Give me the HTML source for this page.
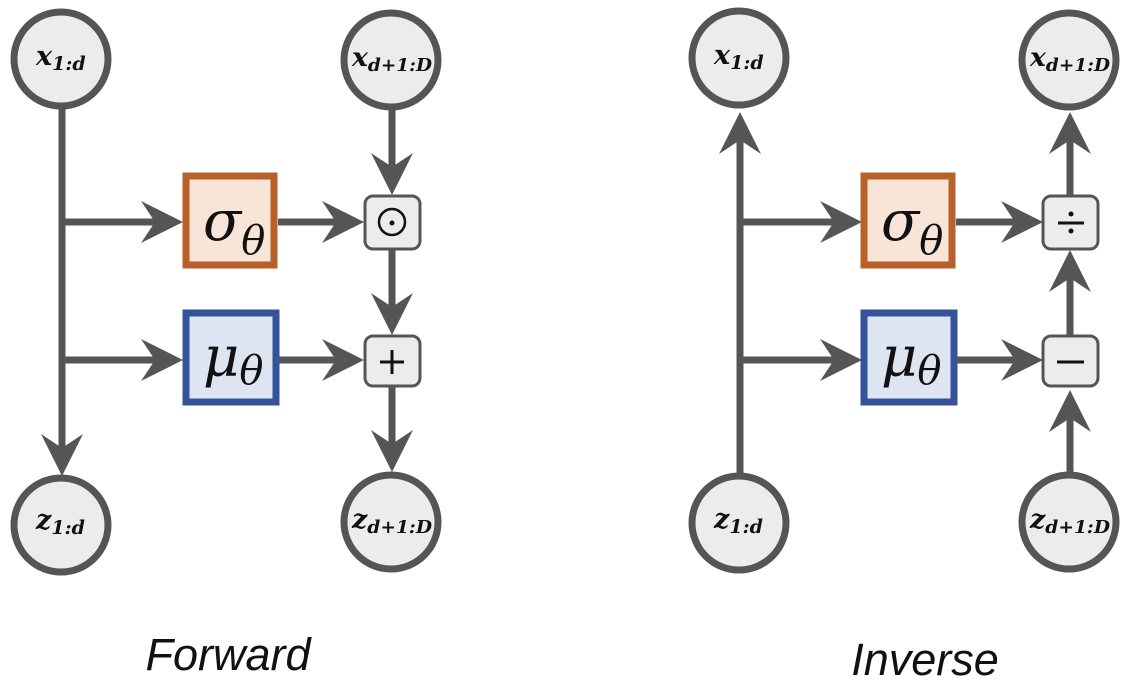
<!DOCTYPE html>
<html><head><meta charset="utf-8"><style>
html,body{margin:0;padding:0;background:#fff;}
svg{display:block;}
.t{font-family:"DejaVu Serif","Liberation Serif",serif;font-weight:bold;font-style:italic;}
.g{font-family:"DejaVu Serif","Liberation Serif",serif;font-style:italic;}
</style></head><body>
<svg width="1128" height="688" viewBox="0 0 1128 688" xmlns="http://www.w3.org/2000/svg">
<defs>
<path id="ah" d="M0,0 L-42,-21 L-28,0 L-42,21 Z" fill="#555"/>
</defs>
<g stroke="#555" stroke-width="7" fill="none">
<line x1="62" y1="108" x2="62" y2="460"/>
<line x1="62" y1="222" x2="160" y2="222"/>
<line x1="62" y1="360" x2="160" y2="360"/>
<line x1="278" y1="222" x2="345" y2="222"/>
<line x1="278" y1="360" x2="345" y2="360"/>
<line x1="392" y1="108" x2="392" y2="180"/>
<line x1="392" y1="250" x2="392" y2="318"/>
<line x1="392" y1="385" x2="392" y2="455"/>
<line x1="740" y1="135" x2="740" y2="476"/>
<line x1="740" y1="222" x2="838" y2="222"/>
<line x1="740" y1="360" x2="838" y2="360"/>
<line x1="956" y1="222" x2="1024" y2="222"/>
<line x1="956" y1="360" x2="1024" y2="360"/>
<line x1="1070" y1="135" x2="1070" y2="195"/>
<line x1="1070" y1="270" x2="1070" y2="335"/>
<line x1="1070" y1="405" x2="1070" y2="476"/>
</g>
<use href="#ah" transform="translate(183,222)"/>
<use href="#ah" transform="translate(183,360)"/>
<use href="#ah" transform="translate(364,222)"/>
<use href="#ah" transform="translate(364,360)"/>
<use href="#ah" transform="translate(392,195) rotate(90)"/>
<use href="#ah" transform="translate(392,335) rotate(90)"/>
<use href="#ah" transform="translate(392,472) rotate(90)"/>
<use href="#ah" transform="translate(62,476) rotate(90)"/>
<use href="#ah" transform="translate(862,222)"/>
<use href="#ah" transform="translate(862,360)"/>
<use href="#ah" transform="translate(1043,222)"/>
<use href="#ah" transform="translate(1043,360)"/>
<use href="#ah" transform="translate(740,112) rotate(-90)"/>
<use href="#ah" transform="translate(1070,112) rotate(-90)"/>
<use href="#ah" transform="translate(1070,250) rotate(-90)"/>
<use href="#ah" transform="translate(1070,390) rotate(-90)"/>
<g fill="#ececec" stroke="#555" stroke-width="7">
<circle cx="61" cy="59" r="47"/>
<circle cx="391" cy="60" r="47"/>
<circle cx="61" cy="525" r="47"/>
<circle cx="391" cy="522" r="47"/>
<circle cx="739" cy="58" r="47"/>
<circle cx="1069" cy="60" r="47"/>
<circle cx="739" cy="523" r="47"/>
<circle cx="1069" cy="522" r="47"/>
</g>
<rect x="186" y="176" width="88" height="89" fill="#f9e5d8" stroke="#b8602a" stroke-width="7"/>
<rect x="186" y="313" width="90" height="89" fill="#dde5f3" stroke="#34539a" stroke-width="7"/>
<rect x="864" y="176" width="88" height="89" fill="#f9e5d8" stroke="#b8602a" stroke-width="7"/>
<rect x="864" y="313" width="90" height="89" fill="#dde5f3" stroke="#34539a" stroke-width="7"/>
<g fill="#ececec" stroke="#555" stroke-width="3">
<rect x="365" y="196" width="55" height="53" rx="8"/>
<rect x="365" y="336" width="55" height="50" rx="8"/>
<rect x="1043" y="196" width="55" height="53" rx="8"/>
<rect x="1043" y="336" width="55" height="50" rx="8"/>
</g>
<circle cx="392" cy="222" r="13" fill="none" stroke="#111" stroke-width="2.5"/>
<circle cx="392" cy="223" r="2.5" fill="#111"/>
<g stroke="#111" stroke-width="3">
<line x1="380" y1="362" x2="404" y2="362"/><line x1="392" y1="350" x2="392" y2="374"/>
<line x1="1058" y1="223" x2="1084" y2="223"/>
<line x1="1057" y1="362" x2="1084" y2="362"/>
</g>
<circle cx="1071" cy="214" r="2.5" fill="#111"/><circle cx="1071" cy="231" r="2.5" fill="#111"/>
<g class="g" fill="#111">
<text x="203" y="240" font-size="56">σ<tspan font-size="40" dy="14">θ</tspan></text>
<text x="203" y="376" font-size="56">μ<tspan font-size="40" dy="8">θ</tspan></text>
<text x="881" y="240" font-size="56">σ<tspan font-size="40" dy="14">θ</tspan></text>
<text x="881" y="376" font-size="56">μ<tspan font-size="40" dy="8">θ</tspan></text>
</g>
<g class="t" fill="#111">
<text x="36" y="65" font-size="27">x<tspan font-size="19" dy="5">1:d</tspan></text>
<text x="352" y="66" font-size="26" textLength="80" lengthAdjust="spacingAndGlyphs">x<tspan font-size="18" dy="5">d+1:D</tspan></text>
<text x="36" y="529" font-size="27">z<tspan font-size="19" dy="5">1:d</tspan></text>
<text x="352" y="528" font-size="26" textLength="80" lengthAdjust="spacingAndGlyphs">z<tspan font-size="18" dy="5">d+1:D</tspan></text>
<text x="714" y="64" font-size="27">x<tspan font-size="19" dy="5">1:d</tspan></text>
<text x="1030" y="66" font-size="26" textLength="80" lengthAdjust="spacingAndGlyphs">x<tspan font-size="18" dy="5">d+1:D</tspan></text>
<text x="714" y="528" font-size="27">z<tspan font-size="19" dy="5">1:d</tspan></text>
<text x="1030" y="528" font-size="26" textLength="80" lengthAdjust="spacingAndGlyphs">z<tspan font-size="18" dy="5">d+1:D</tspan></text>
</g>
<text x="228" y="670" font-size="45" font-style="italic" text-anchor="middle" font-family="Liberation Sans, sans-serif" fill="#111">Forward</text>
<text x="925" y="675" font-size="45" font-style="italic" text-anchor="middle" font-family="Liberation Sans, sans-serif" fill="#111">Inverse</text>
</svg>
</body></html>
